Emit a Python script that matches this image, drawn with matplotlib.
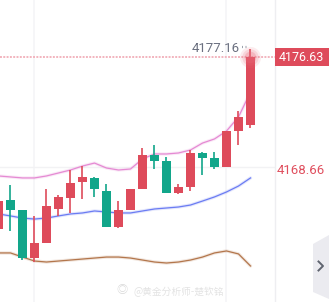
import matplotlib
matplotlib.use("Agg")
import matplotlib.pyplot as plt
from matplotlib.patches import Polygon, Rectangle
from matplotlib.lines import Line2D
import matplotlib.transforms as mtransforms

plt.rcParams['font.family'] = ['Roboto', 'Noto Sans CJK SC', 'DejaVu Sans']

# candles (red = up, green = down)
opens = [4164.50, 4166.54, 4165.84, 4162.45, 4163.51, 4165.91, 4166.69, 4167.81, 4168.10, 4167.18, 4164.64,
         4165.84, 4167.32, 4169.72, 4169.29, 4167.04, 4167.46, 4169.86, 4169.51, 4168.87, 4171.41, 4171.83]
highs = [4166.69, 4167.60, 4165.84, 4165.42, 4167.32, 4166.90, 4168.66, 4168.94, 4168.17, 4167.67, 4166.47,
         4167.32, 4170.21, 4170.42, 4169.58, 4167.67, 4170.07, 4169.93, 4169.93, 4171.41, 4172.82, 4177.16]
lows = [4164.29, 4164.36, 4162.31, 4162.17, 4163.51, 4165.42, 4165.63, 4166.61, 4166.76, 4164.64, 4164.57,
        4165.84, 4167.32, 4168.73, 4167.04, 4166.97, 4167.18, 4168.31, 4168.73, 4168.87, 4170.42, 4171.62]
closes = [4166.47, 4165.84, 4162.45, 4163.51, 4166.12, 4166.76, 4167.74, 4168.17, 4167.32, 4164.64, 4165.84,
          4167.32, 4169.72, 4169.29, 4167.04, 4167.46, 4169.86, 4169.51, 4168.87, 4171.41, 4172.40, 4176.63]

# bollinger bands
upper = [4168.24, 4168.17, 4168.10, 4168.10, 4168.24, 4168.45, 4168.66, 4168.94, 4169.15, 4168.80, 4168.66,
         4168.73, 4169.44, 4169.79, 4169.79, 4169.86, 4170.07, 4170.56, 4170.85, 4171.41, 4172.40, 4174.16]
middle = [4165.56, 4165.42, 4165.27, 4165.20, 4165.27, 4165.42, 4165.56, 4165.63, 4165.77, 4165.70, 4165.63,
          4165.63, 4165.77, 4165.91, 4165.98, 4166.05, 4166.19, 4166.47, 4166.76, 4167.11, 4167.53, 4168.10]
lower = [4162.81, 4162.81, 4162.52, 4162.24, 4162.17, 4162.24, 4162.31, 4162.38, 4162.45, 4162.52, 4162.52,
         4162.45, 4162.31, 4162.17, 4162.10, 4162.17, 4162.31, 4162.52, 4162.81, 4162.95, 4162.74, 4161.89]

last_price = 4176.63
high_price = 4177.16
grid_price = 4168.66
grid_cols = [3, 19]

RED = "#de4b5b"
GREEN = "#12a68a"

W, H = 329, 302
fig = plt.figure(figsize=(W / 100, H / 100), dpi=100)
fig.patch.set_facecolor("white")
ax = fig.add_axes([0, 0, 275 / W, 1])
ax.set_xlim(0.125, 0.125 + 275 / 12)
ax.set_ylim(4159.35, 4180.65)
for s in ["top", "left", "bottom"]:
    ax.spines[s].set_visible(False)
ax.spines["right"].set_color("#eeeef1")
ax.spines["right"].set_linewidth(1)
ax.set_xticks([])
ax.set_yticks([])

# grid
for c in grid_cols:
    ax.axvline(c, color="#f5f5f7", lw=1.2, zorder=0)
ax.axhline(grid_price + 0.2, color="#f2f2f4", lw=1, zorder=0)

x = list(range(len(opens)))

# bands with a soft glow
for vals, col in [(upper, "#e58ad3"), (middle, "#6b7cf3"), (lower, "#b3764c")]:
    ax.plot(x, vals, color=col, lw=2.4, alpha=0.18, zorder=1, solid_capstyle="round")
    ax.plot(x, vals, color=col, lw=0.9, zorder=1)

# candles
for i in x:
    col = RED if closes[i] >= opens[i] else GREEN
    ax.vlines(i, lows[i], highs[i], color=col, lw=1.2, zorder=2)
    ax.bar(i, closes[i] - opens[i], bottom=opens[i], width=0.75, color=col, lw=0, zorder=3)

# last price dotted line
ax.axhline(last_price, color="#f2b4be", lw=1.4, ls=(0, (1, 0.7)), zorder=1.5)

# glow on last close
li = x[-1]
for s, a in [(230, 0.12), (140, 0.18), (70, 0.28)]:
    ax.scatter([li], [last_price], s=s, color="#ea6a7a", alpha=a, lw=0, zorder=4)

# high marker
ax.text(li - 0.85, high_price + 0.08, "4177.16", ha="right", va="center", fontsize=9.5,
        color="#6b7080", zorder=5)
ax.plot([li - 0.72, li - 0.1], [high_price + 0.15] * 2, color="#9097a3", lw=1.6,
        ls=(0, (0.4, 1.2)), zorder=5)

# right axis labels
tr = mtransforms.blended_transform_factory(fig.transFigure, ax.transData)
box_h = 18 * (ax.get_ylim()[1] - ax.get_ylim()[0]) / H
ax.add_patch(Rectangle((275 / W, last_price - box_h / 2), 54 / W, box_h, transform=tr,
                       facecolor=RED, edgecolor="none", clip_on=False, zorder=6))
ax.text(301 / W, last_price - 0.05, "4176.63", transform=tr, ha="center", va="center",
        fontsize=9, color="white", clip_on=False, zorder=7)
ax.text(277 / W, grid_price - 0.05, "4168.66", transform=tr, ha="left", va="center",
        fontsize=9.5, color="#e0505f", clip_on=False)

# side button
def fp(px, py):
    return (px / W, 1 - py / H)

fig.add_artist(Polygon([fp(313, 244), fp(329, 235), fp(329, 299), fp(313, 292)],
                       closed=True, facecolor="#ebebf0", edgecolor="none", transform=fig.transFigure))
fig.add_artist(Line2D([318.5 / W, 323 / W, 318.5 / W], [1 - 261.5 / H, 1 - 266 / H, 1 - 270.5 / H],
                      color="#5f6470", lw=1.4, transform=fig.transFigure))

# watermark
fig.text(122 / W, 1 - 290 / H, "\u25ce", fontsize=8, color="#d8d8d8", ha="center", va="center")
fig.text(133 / W, 1 - 292 / H, "@黄金分析师-楚钦铭", fontsize=7, color="#e3e3e3", ha="left",
         va="center", family=["Noto Sans CJK SC", "DejaVu Sans"])

fig.savefig("out.png", dpi=100)
